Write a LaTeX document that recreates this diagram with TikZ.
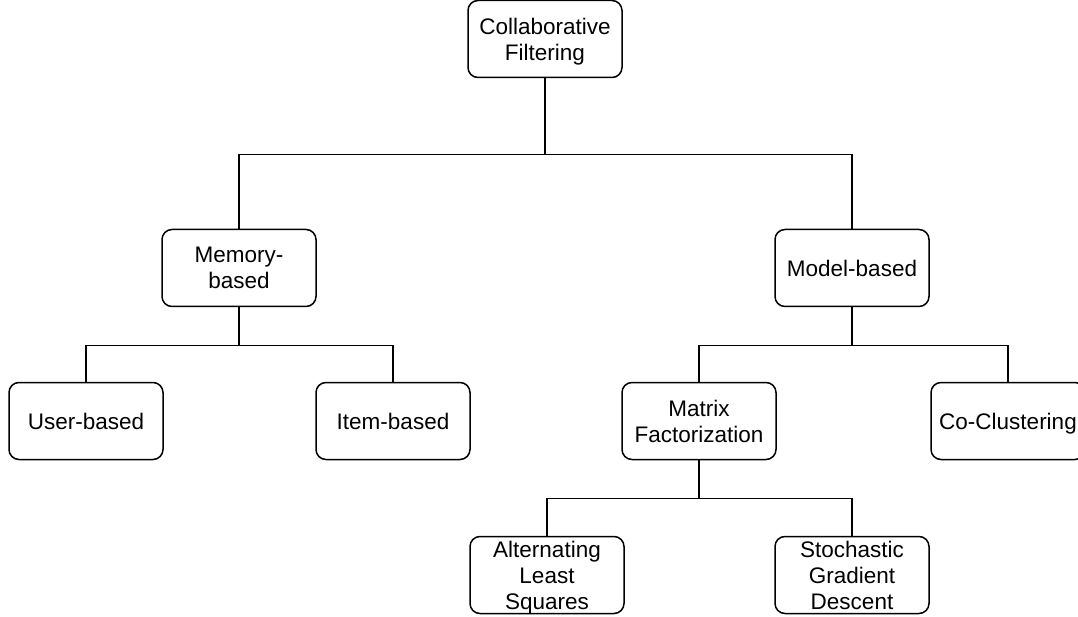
\documentclass[tikz,border=0pt]{standalone}
\usepackage{fontspec}
\setmainfont{Liberation Sans}
\usetikzlibrary{positioning}

\begin{document}
\begin{tikzpicture}[
  x=1pt, y=-1pt,
  catbox/.style={draw, line width=1.5pt, rounded corners=10pt, fill=white,
                 minimum width=154pt, minimum height=77pt, inner sep=0pt,
                 text depth=0pt, align=center, font=\fontsize{22.5}{26}\selectfont},
  link/.style={line width=1.5pt}
]
  \useasboundingbox (0,0) rectangle (1078,617);
  \clip (0,0) rectangle (1078,617);
  \fill[white] (0,0) rectangle (1078,617);

  % root and first level
  \node[catbox] (cf) at (545,39) {Collaborative\\Filtering};
  \node[catbox] (mem) at (239,268) {Memory-\\based};
  \node[catbox] (model) at (852,268) {Model-based};

  % second level
  \node[catbox] (user) at (86,421) {User-based};
  \node[catbox] (item) at (393,421) {Item-based};
  \node[catbox] (mf) at (699,421) {Matrix\\Factorization};
  \node[catbox] (cocl) at (1008,421) {Co-Clustering};

  % third level
  \node[catbox] (als) at (547,575) {Alternating\\Least\\Squares};
  \node[catbox] (sgd) at (852,575) {Stochastic\\Gradient\\Descent};

  % tree links
  \draw[link] (cf.south) -- ++(0,76.5) -| (mem.north);
  \draw[link] (cf.south) -- ++(0,76.5) -| (model.north);
  \draw[link] (mem.south) -- ++(0,38) -| (user.north);
  \draw[link] (mem.south) -- ++(0,38) -| (item.north);
  \draw[link] (model.south) -- ++(0,38) -| (mf.north);
  \draw[link] (model.south) -- ++(0,38) -| (cocl.north);
  \draw[link] (mf.south) -- ++(0,38) -| (als.north);
  \draw[link] (mf.south) -- ++(0,38) -| (sgd.north);
\end{tikzpicture}
\end{document}
